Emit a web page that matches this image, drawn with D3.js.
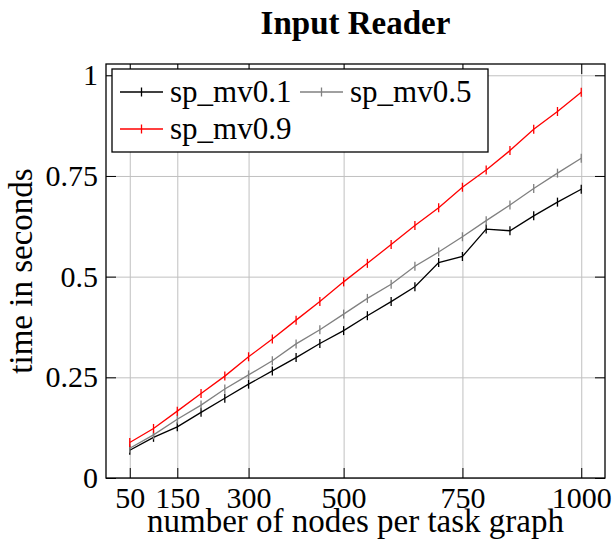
<!DOCTYPE html>
<html>
<head>
<meta charset="utf-8">
<script src="https://cdn.jsdelivr.net/npm/d3@7"></script>
<style>
  body { margin: 0; background: #fff; }
  text { font-family: "Liberation Serif", "Times New Roman", serif; fill: #000; }
</style>
</head>
<body>
<div id="viz"></div>
<script>
// data
const nodes = [50, 100, 150, 200, 250, 300, 350, 400, 450, 500, 550, 600, 650, 700, 750, 800, 850, 900, 950, 1000];
const mv01 = [0.069, 0.101, 0.127, 0.163, 0.198, 0.233, 0.266, 0.299, 0.334, 0.366, 0.403, 0.438, 0.475, 0.535, 0.550, 0.618, 0.614, 0.651, 0.685, 0.717];
const mv05 = [0.074, 0.107, 0.146, 0.181, 0.221, 0.256, 0.291, 0.333, 0.368, 0.407, 0.446, 0.481, 0.526, 0.561, 0.599, 0.639, 0.678, 0.719, 0.757, 0.794];
const mv09 = [0.088, 0.123, 0.166, 0.210, 0.253, 0.301, 0.345, 0.392, 0.438, 0.487, 0.533, 0.580, 0.627, 0.671, 0.722, 0.765, 0.813, 0.866, 0.910, 0.958];
const seriesNames = ["sp_mv0.1", "sp_mv0.5", "sp_mv0.9"];
const xTicks = [50, 150, 300, 500, 750, 1000];
const yTicks = [0, 0.25, 0.5, 0.75, 1];

const colors = ["#000000", "#808080", "#ff0000"];
const series = [mv01, mv05, mv09].map((vals, i) => ({
  name: seriesNames[i],
  color: colors[i],
  points: nodes.map((n, j) => ({x: n, y: vals[j]}))
}));

// plot box
const W = 615, H = 550;
const box = {left: 106, right: 605, top: 64, bottom: 478};
const serif = "'Liberation Serif', 'Times New Roman', serif";

const svg = d3.select("#viz").append("svg")
  .attr("width", W)
  .attr("height", H)
  .attr("font-family", serif);

const x = d3.scaleLinear().domain([0, 1050]).range([box.left, box.right]);
const y = d3.scaleLinear().domain([0, 1.028]).range([box.bottom, box.top]);

// grid
const grid = svg.append("g");
grid.append("g")
  .attr("transform", "translate(0," + box.bottom + ")")
  .call(d3.axisBottom(x).tickValues(xTicks).tickSize(-(box.bottom - box.top)).tickFormat(""));
grid.append("g")
  .attr("transform", "translate(" + box.left + ",0)")
  .call(d3.axisLeft(y).tickValues(yTicks).tickSize(-(box.right - box.left)).tickFormat(""));
grid.selectAll(".domain").remove();
grid.selectAll("line").attr("stroke", "#c0c0c0").attr("stroke-width", 1);

// lines and markers
const line = d3.line().x(d => x(d.x)).y(d => y(d.y));
series.forEach(s => {
  svg.append("path")
    .datum(s.points)
    .attr("fill", "none")
    .attr("stroke", s.color)
    .attr("stroke-width", 1.3)
    .attr("d", line);
  svg.append("g").selectAll("line")
    .data(s.points)
    .join("line")
    .attr("x1", d => x(d.x)).attr("x2", d => x(d.x))
    .attr("y1", d => y(d.y) - 4.5).attr("y2", d => y(d.y) + 4.5)
    .attr("stroke", s.color)
    .attr("stroke-width", 1.3);
});

// axes, ticks inside and mirrored
const fmt = d => String(d);
const xa = svg.append("g")
  .attr("transform", "translate(0," + box.bottom + ")")
  .call(d3.axisBottom(x).tickValues(xTicks).tickSize(-10).tickPadding(9).tickFormat(fmt));
const xt = svg.append("g")
  .attr("transform", "translate(0," + box.top + ")")
  .call(d3.axisTop(x).tickValues(xTicks).tickSize(-10).tickFormat(""));
const ya = svg.append("g")
  .attr("transform", "translate(" + box.left + ",0)")
  .call(d3.axisLeft(y).tickValues(yTicks).tickSize(-10).tickPadding(8).tickFormat(fmt));
const yr = svg.append("g")
  .attr("transform", "translate(" + box.right + ",0)")
  .call(d3.axisRight(y).tickValues(yTicks).tickSize(-10).tickFormat(""));
[xa, xt, ya, yr].forEach(a => {
  a.attr("font-family", serif);
  a.selectAll(".domain").remove();
  a.selectAll("line").attr("stroke", "#000").attr("stroke-width", 1);
  a.selectAll("text")
    .style("font-family", serif)
    .style("font-size", "30px")
    .attr("fill", "#000");
});

// frame
svg.append("rect")
  .attr("x", box.left).attr("y", box.top)
  .attr("width", box.right - box.left).attr("height", box.bottom - box.top)
  .attr("fill", "none")
  .attr("stroke", "#000")
  .attr("stroke-width", 1.3);

// title and labels
svg.append("text")
  .attr("x", (box.left + box.right) / 2).attr("y", 34)
  .attr("text-anchor", "middle")
  .style("font-size", "33px")
  .style("font-weight", "bold")
  .text("Input Reader");

svg.append("text")
  .attr("x", (box.left + box.right) / 2).attr("y", 532)
  .attr("text-anchor", "middle")
  .style("font-size", "33px")
  .text("number of nodes per task graph");

svg.append("text")
  .attr("transform", "translate(32," + (box.top + box.bottom) / 2 + ") rotate(-90)")
  .attr("text-anchor", "middle")
  .style("font-size", "33px")
  .text("time in seconds");

// legend
const lg = svg.append("g");
lg.append("rect")
  .attr("x", 112).attr("y", 69)
  .attr("width", 376).attr("height", 83)
  .attr("fill", "#fff")
  .attr("stroke", "#000")
  .attr("stroke-width", 1.3);
const legendPos = [{x: 120, y: 92}, {x: 300, y: 92}, {x: 120, y: 129}];
series.forEach((s, i) => {
  const p = legendPos[i];
  lg.append("line")
    .attr("x1", p.x).attr("x2", p.x + 43)
    .attr("y1", p.y).attr("y2", p.y)
    .attr("stroke", s.color).attr("stroke-width", 1.3);
  lg.append("line")
    .attr("x1", p.x + 21.5).attr("x2", p.x + 21.5)
    .attr("y1", p.y - 4.5).attr("y2", p.y + 4.5)
    .attr("stroke", s.color).attr("stroke-width", 1.3);
  lg.append("text")
    .attr("x", p.x + 50).attr("y", p.y + 10)
    .style("font-size", "31px")
    .text(s.name);
});
</script>
</body>
</html>
